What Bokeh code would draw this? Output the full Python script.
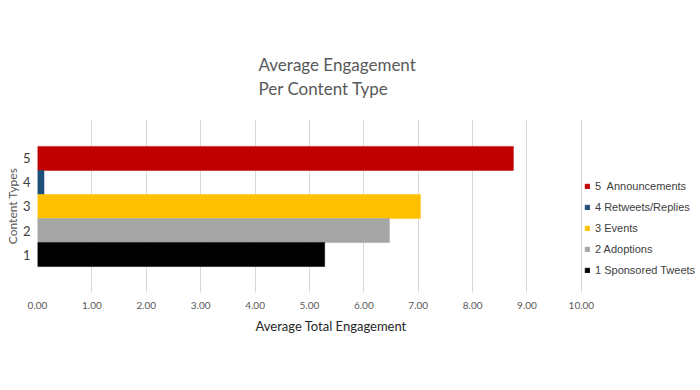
from bokeh.plotting import figure
from bokeh.models import (ColumnDataSource, Legend, LegendItem, Title, FixedTicker,
                          PrintfTickFormatter, Range1d)
from bokeh.embed import file_html
from bokeh.resources import INLINE

# Data
labels = ["5  Announcements", "4 Retweets/Replies", "3 Events", "2 Adoptions", "1 Sponsored Tweets"]
positions = [5, 4, 3, 2, 1]
values = [8.75, 0.12, 7.04, 6.47, 5.28]
colors = ["#C00000", "#1F4E79", "#FFC000", "#A5A5A5", "#000000"]
x_ticks = [0, 1, 2, 3, 4, 5, 6, 7, 8, 9, 10]
y_ticks = [1, 2, 3, 4, 5]

src = ColumnDataSource(dict(y=positions, right=values, color=colors, label=labels))

p = figure(width=700, height=390, output_backend="svg", toolbar_location=None,
           x_range=Range1d(0, 12.19), y_range=Range1d(-0.58, 6.62),
           min_border_left=37, min_border_right=0, min_border_top=119, min_border_bottom=98)
p.outline_line_color = None
p.background_fill_color = "white"

r = p.hbar(y="y", left=0, right="right", height=1.0, color="color", line_color="color",
           line_width=0.5, source=src)

# axes
xa = p.xaxis[0]
xa.ticker = FixedTicker(ticks=x_ticks)
xa.formatter = PrintfTickFormatter(format="%.2f")
xa.axis_line_color = None
xa.major_tick_line_color = None
xa.minor_tick_line_color = None
xa.major_label_text_font = "Lato"
xa.major_label_text_font_size = "10px"
xa.major_label_text_color = "#595959"
xa.major_label_standoff = 3

ya = p.yaxis[0]
ya.ticker = FixedTicker(ticks=y_ticks)
ya.axis_line_color = None
ya.major_tick_line_color = None
ya.minor_tick_line_color = None
ya.major_label_text_font = "Lato"
ya.major_label_text_font_size = "13px"
ya.major_label_text_color = "#404040"
ya.major_label_standoff = 1
ya.axis_label = "Content Types"
ya.axis_label_text_font = "Lato"
ya.axis_label_text_font_style = "normal"
ya.axis_label_text_font_size = "12px"
ya.axis_label_text_color = "#595959"
ya.axis_label_standoff = 0

p.xgrid.ticker = FixedTicker(ticks=x_ticks)
p.xgrid.grid_line_color = "#D9D9D9"
p.ygrid.grid_line_color = None

# x-axis title (placed as a below title so it can be centred like the reference)
xt = Title(text="Average Total Engagement", align="left", offset=218, text_font="Lato",
           text_font_size="13px", text_font_style="normal", text_color="#262626", standoff=9)
p.add_layout(xt, "below")

# chart title (two lines)
tt = Title(text="Average Engagement\nPer Content Type", align="left", offset=221,
           text_font="Lato", text_font_size="17px", text_font_style="normal",
           text_color="#595959", standoff=40)
if "text_line_height" in Title.properties():
    tt.text_line_height = 1.15
p.add_layout(tt, "above")

# legend
items = [LegendItem(label=lab, renderers=[r], index=i) for i, lab in enumerate(labels)]
legend = Legend(items=items, location=(547, 15), padding=0, margin=0,
                glyph_width=6, glyph_height=6, label_height=14, spacing=7,
                label_standoff=5, label_text_font="Liberation Sans",
                label_text_font_size="11px", label_text_color="#404040",
                border_line_color=None, background_fill_alpha=0)
p.add_layout(legend)

open("out.html", "w").write(file_html(p, INLINE))
